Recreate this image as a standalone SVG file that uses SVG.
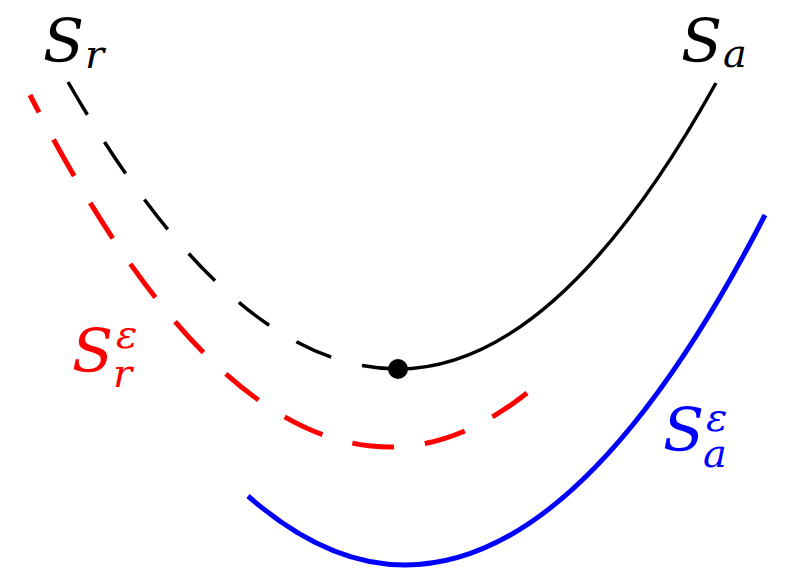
<svg xmlns="http://www.w3.org/2000/svg" width="786" height="568" viewBox="0 0 786 568">
<defs>
<style>
.crv{fill:none;}
.lbl{font-family:"DejaVu Serif","Liberation Serif",serif;font-style:italic;font-size:60px;}
.sm{font-size:40px;}
</style>
</defs>
<rect width="786" height="568" fill="#fff"/>
<g id="Sr">
<path class="crv" d="M68,82 Q233,369 398,369" stroke="#000" stroke-width="3.5" stroke-dasharray="38 32"/>
<text class="lbl" x="43" y="62" fill="#000">S<tspan class="sm" x="85" y="68">r</tspan></text>
</g>
<g id="Sa">
<path class="crv" d="M398,369 Q557,369 716,83" stroke="#000" stroke-width="3.5"/>
<text class="lbl" x="681" y="62" fill="#000">S<tspan class="sm" x="723" y="67">a</tspan></text>
</g>
<g id="Sre">
<path class="crv" d="M527,393 Q458.5,447 390,447 Q210,447 30,95" stroke="#f00" stroke-width="5" stroke-dasharray="42 31"/>
<text class="lbl" x="72" y="372" fill="#f00">S<tspan class="sm" x="116" y="348">ε</tspan><tspan class="sm" x="113" y="387">r</tspan></text>
</g>
<g id="Sae">
<path class="crv" d="M248,496 Q326.5,565 405,565 Q585,565 765,215" stroke="#00f" stroke-width="5"/>
<text class="lbl" x="663" y="451" fill="#00f">S<tspan class="sm" x="706" y="431">ε</tspan><tspan class="sm" x="703" y="467">a</tspan></text>
</g>
<g id="point">
<circle cx="398" cy="369" r="10" fill="#000"/>
</g>
</svg>
